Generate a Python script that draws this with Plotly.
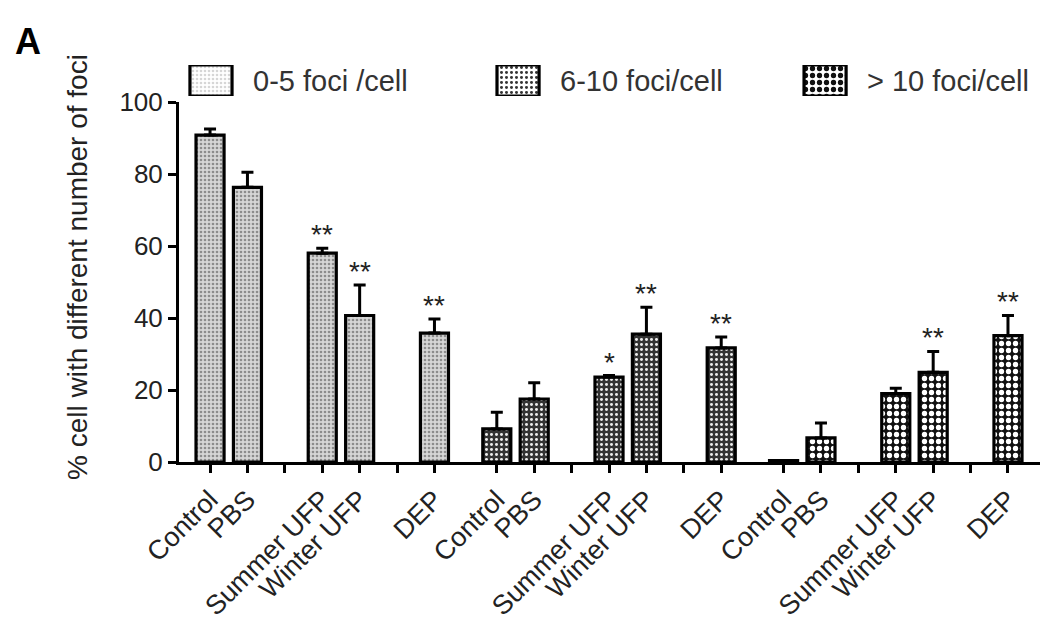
import plotly.graph_objects as go

# ---------------- data ----------------
treatments = ["Control", "PBS", "Summer UFP", "Winter UFP", "DEP"]
series_names = ["0-5 foci /cell", "6-10 foci/cell", "> 10 foci/cell"]

foci_0_5 = [90.8, 76.3, 58.0, 40.7, 35.8]
err_0_5 = [1.7, 4.2, 1.4, 8.5, 3.9]
sig_0_5 = ["", "", "**", "**", "**"]

foci_6_10 = [9.2, 17.5, 23.6, 35.5, 31.7]
err_6_10 = [4.6, 4.5, 0.4, 7.5, 3.0]
sig_6_10 = ["", "", "*", "**", "**"]

foci_gt10 = [0.4, 6.7, 19.0, 24.9, 35.1]
err_gt10 = [0.0, 4.1, 1.5, 5.8, 5.6]
sig_gt10 = ["", "", "", "**", "**"]

slot_labels = ["Control", "PBS", "", "Summer UFP", "Winter UFP", "", "DEP"]
y_ticks = [0, 20, 40, 60, 80, 100]

# ---------------- layout helpers ----------------
GROUP_STEP = 7.667          # slots between group starts
BAR_SLOTS = [0, 1, 3, 4, 6]  # slot of each treatment in a group
BAR_W = 0.75

values = [foci_0_5, foci_6_10, foci_gt10]
errors = [err_0_5, err_6_10, err_gt10]
sigs = [sig_0_5, sig_6_10, sig_gt10]

patterns = [
    dict(shape=".", bgcolor="#d6d6d6", fgcolor="#8c8c8c", size=4, solidity=0.35, fillmode="replace"),
    dict(shape=".", bgcolor="#333333", fgcolor="#eeeeee", size=5, solidity=0.28, fillmode="replace"),
    dict(shape=".", bgcolor="#111111", fgcolor="#ffffff", size=7, solidity=0.45, fillmode="replace"),
]

FONT = "Liberation Sans, Arial, sans-serif"
TXT = "#222222"

fig = go.Figure()

tick_vals, tick_text = [], []
for g in range(3):
    for s, lab in enumerate(slot_labels):
        tick_vals.append(g * GROUP_STEP + s)
        tick_text.append(lab)

for g in range(3):
    xs = [g * GROUP_STEP + s for s in BAR_SLOTS]
    fig.add_trace(go.Bar(
        x=xs, y=values[g], width=[BAR_W] * len(xs),
        name=series_names[g], showlegend=False,
        marker=dict(color=patterns[g]["bgcolor"], pattern=patterns[g],
                    line=dict(color="black", width=3.2)),
        error_y=dict(type="data", array=errors[g], arrayminus=[0] * len(xs),
                     symmetric=False, color="black", thickness=3, width=6),
        xaxis="x", yaxis="y",
    ))
    for x, v, e, sg in zip(xs, values[g], errors[g], sigs[g]):
        if sg:
            fig.add_annotation(x=x, y=v + e, xref="x", yref="y", text=sg,
                               showarrow=False, yanchor="bottom", yshift=-4,
                               font=dict(family=FONT, size=28, color=TXT))

# ---------------- custom legend (auxiliary axes) ----------------
leg_x = [0, 1, 2]
fig.add_trace(go.Bar(
    x=leg_x, y=[1, 1, 1], width=0.137, showlegend=False, hoverinfo="skip",
    marker=dict(pattern=dict(
        shape=".", bgcolor=[p["bgcolor"] for p in patterns],
        fgcolor=[p["fgcolor"] for p in patterns],
        size=[p["size"] for p in patterns],
        solidity=[p["solidity"] for p in patterns], fillmode="replace"),
        color=[p["bgcolor"] for p in patterns],
        line=dict(color="black", width=3.2)),
    xaxis="x2", yaxis="y2",
))
for i, nm in enumerate(series_names):
    fig.add_annotation(x=leg_x[i], y=0.5, xref="x2", yref="y2", text=nm,
                       showarrow=False, xanchor="left", yanchor="middle",
                       xshift=40, font=dict(family=FONT, size=29, color="#333333"))

# ---------------- axes / layout ----------------
L, R, T, B = 179, 13, 60, 173
W, H = 1053, 635
plot_h = H - T - B
main_top = (H - B - 102) / plot_h

fig.update_layout(
    width=W, height=H,
    margin=dict(l=L, r=R, t=T, b=B, pad=0),
    paper_bgcolor="white", plot_bgcolor="white",
    barmode="overlay", showlegend=False,
    font=dict(family=FONT, color=TXT),
    xaxis=dict(domain=[0, 1], range=[-0.83, 22.19], tickmode="array",
               tickvals=tick_vals, ticktext=tick_text, tickangle=-45,
               showline=True, linecolor="black", linewidth=3,
               ticks="outside", ticklen=8, tickwidth=3, tickcolor="black",
               showgrid=False, zeroline=False,
               tickfont=dict(family=FONT, size=27, color=TXT)),
    yaxis=dict(domain=[0, main_top], range=[0, 100], tickvals=y_ticks,
               showline=True, linecolor="black", linewidth=3,
               ticks="outside", ticklen=8, tickwidth=3, tickcolor="black",
               showgrid=False, zeroline=False,
               tickfont=dict(family=FONT, size=26, color=TXT)),
    xaxis2=dict(domain=[0, 1], anchor="y2", range=[-0.1042, 2.70], visible=False),
    yaxis2=dict(domain=[(H - B - 96) / plot_h, (H - B - 65) / plot_h],
                anchor="x2", range=[0, 1], visible=False),
)

# y-axis title and panel letter
fig.add_annotation(x=(77 - L) / (W - L - R), y=(H - B - 267) / plot_h,
                   xref="paper", yref="paper", text="% cell with different number of foci",
                   textangle=-90, showarrow=False, xanchor="center", yanchor="middle",
                   font=dict(family=FONT, size=28, color=TXT))
fig.add_annotation(x=(13 - L) / (W - L - R), y=(H - B - 41) / plot_h,
                   xref="paper", yref="paper", text="<b>A</b>",
                   showarrow=False, xanchor="left", yanchor="middle",
                   font=dict(family=FONT, size=36, color="black"))

fig.write_html("out.html", config={"displayModeBar": False},
               post_script="document.body.style.margin='0';")
